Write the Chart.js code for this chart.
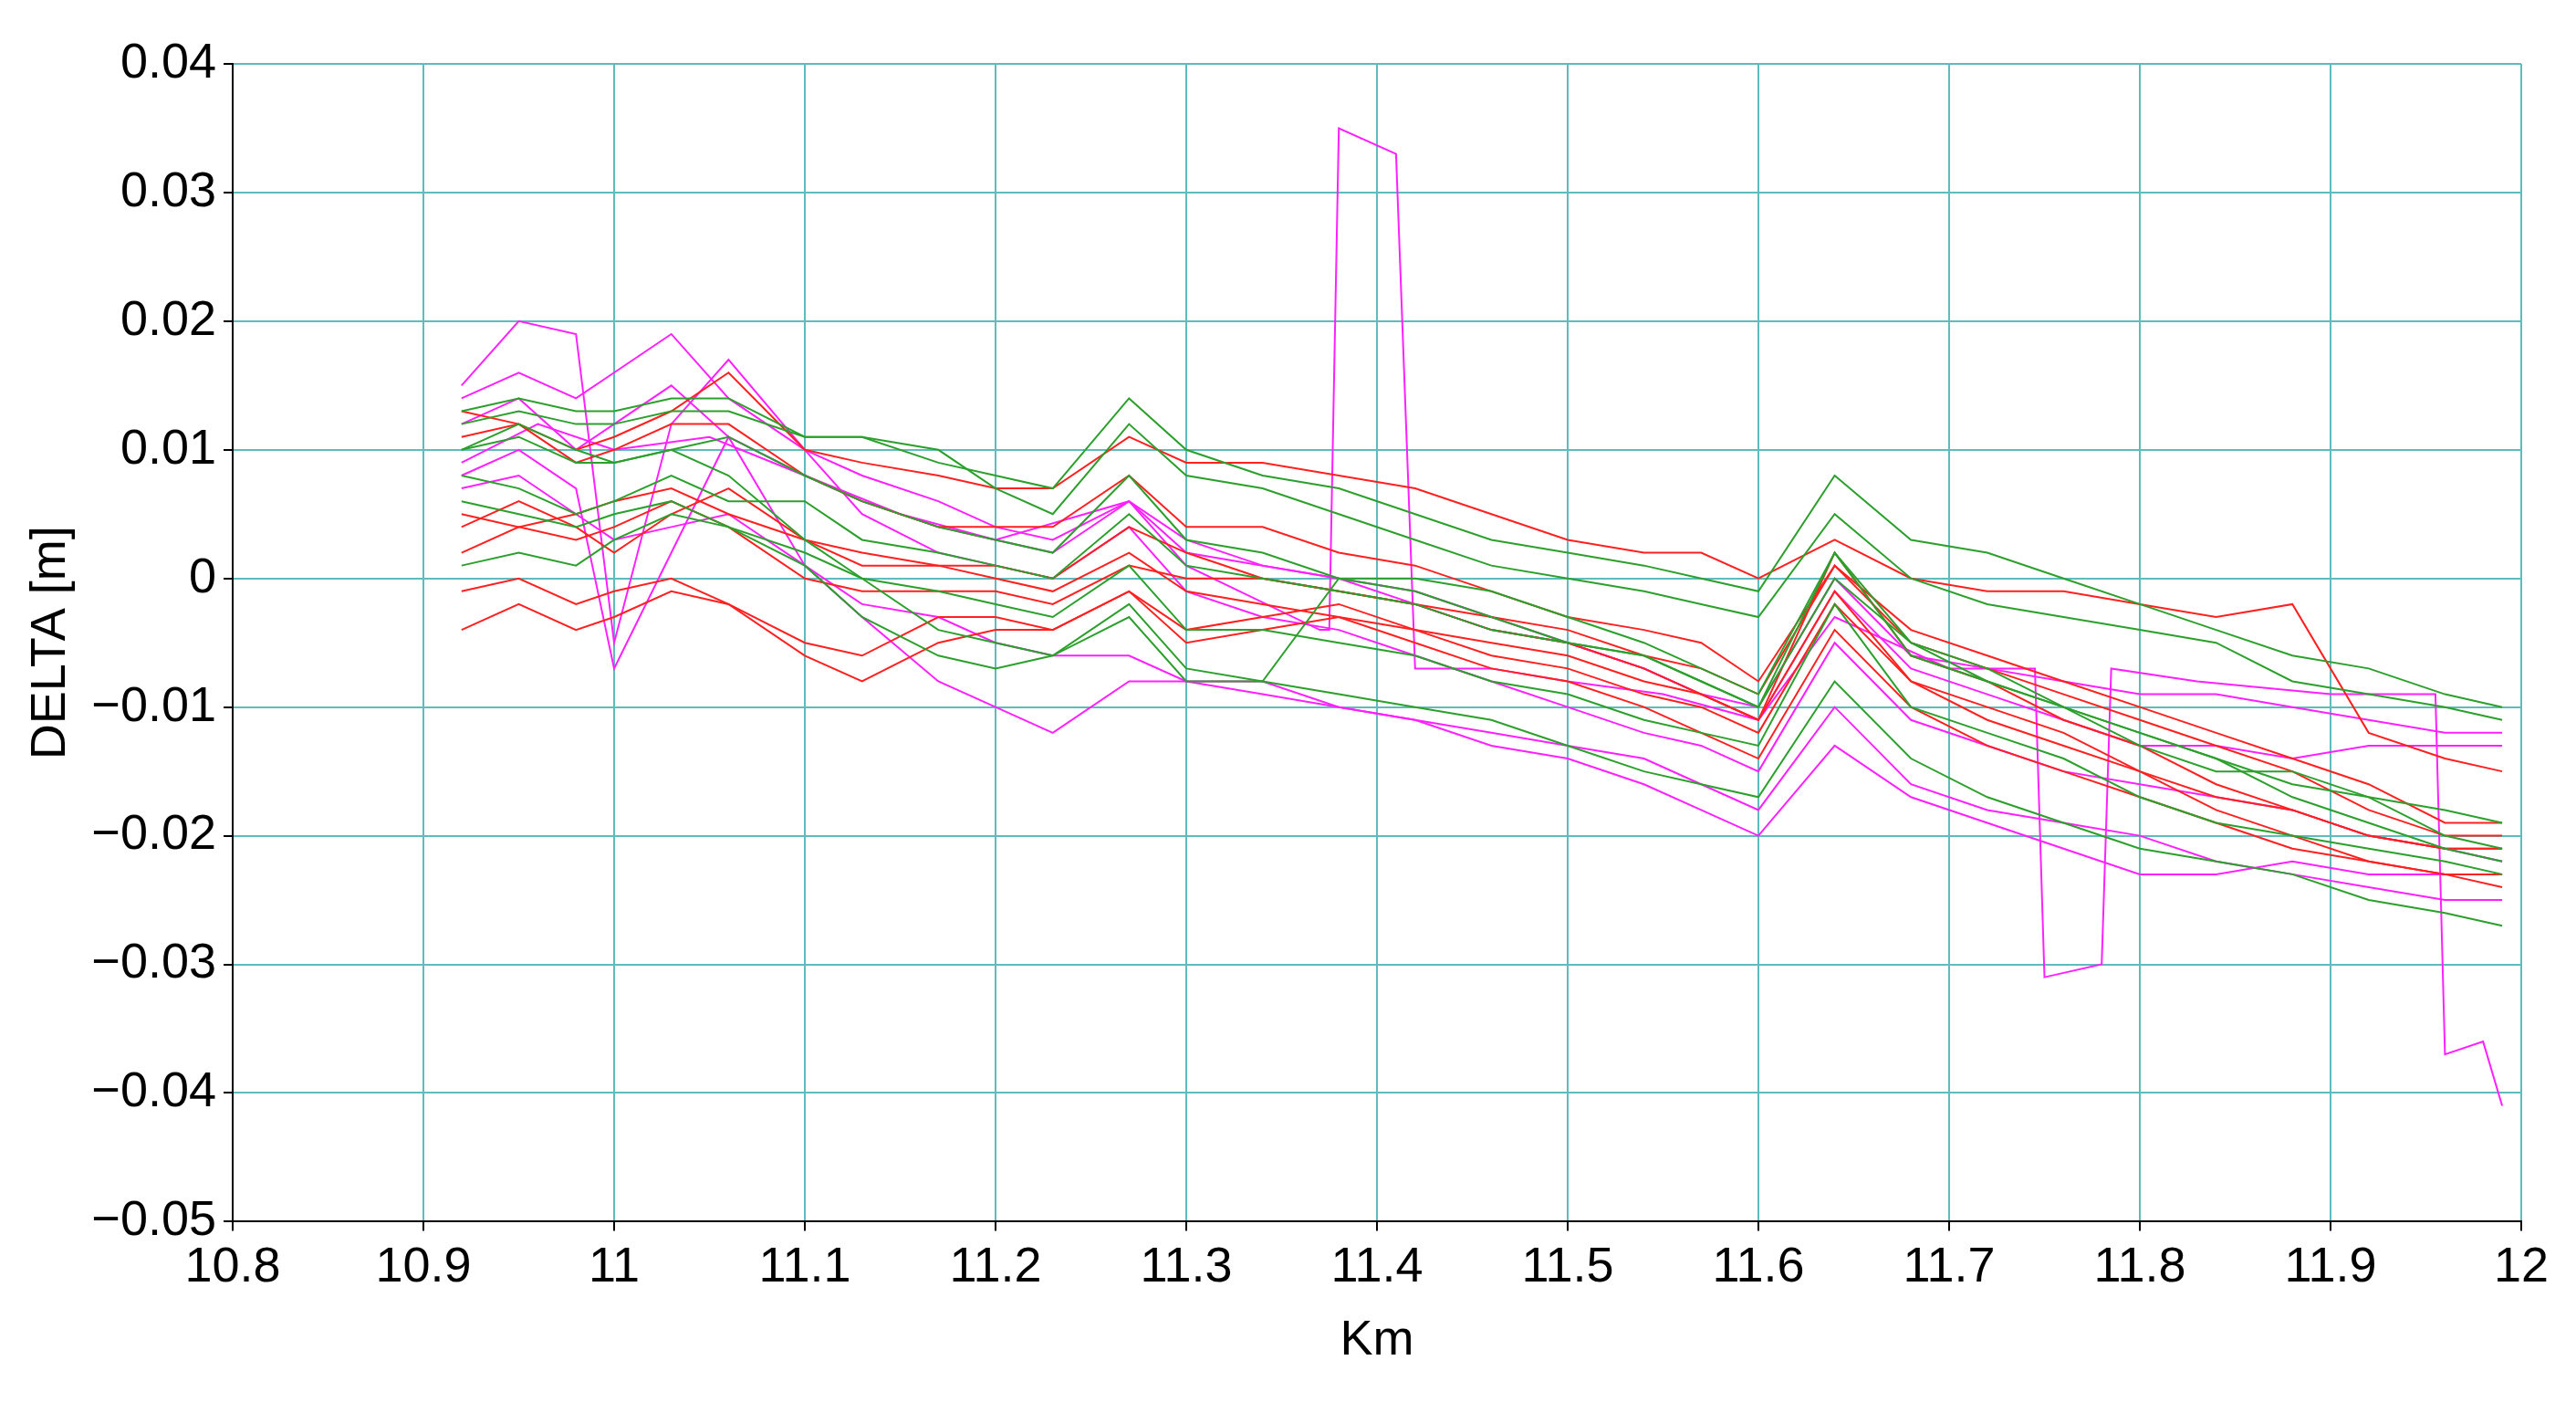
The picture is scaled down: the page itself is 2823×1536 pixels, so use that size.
<!DOCTYPE html>
<html><head><meta charset="utf-8">
<script src="https://cdn.jsdelivr.net/npm/chart.js@4/dist/chart.umd.min.js"></script>
<style>html,body{margin:0;padding:0;background:#fff}#w{width:2823px;height:1536px}</style>
</head><body><div id="w"><canvas id="c"></canvas></div>
<script>
const xs=[10.92,10.95,10.98,11.0,11.03,11.06,11.1,11.13,11.17,11.2,11.23,11.27,11.3,11.34,11.38,11.42,11.46,11.5,11.54,11.57,11.6,11.64,11.68,11.72,11.76,11.8,11.84,11.88,11.92,11.96,11.99];
const G1=[0.013,0.014,0.013,0.013,0.014,0.014,0.011,0.011,0.009,0.008,0.007,0.014,0.010,0.008,0.007,0.005,0.003,0.002,0.001,0.000,-0.001,0.008,0.003,0.002,0.000,-0.002,-0.004,-0.006,-0.007,-0.009,-0.010];
const G2=[0.012,0.013,0.012,0.012,0.013,0.013,0.011,0.011,0.010,0.007,0.005,0.012,0.008,0.007,0.005,0.003,0.001,0.000,-0.001,-0.002,-0.003,0.005,0.000,-0.002,-0.003,-0.004,-0.005,-0.008,-0.009,-0.010,-0.011];
const G3=[0.010,0.012,0.010,0.009,0.010,0.011,0.008,0.006,0.004,0.003,0.002,0.008,0.003,0.002,0.000,-0.001,-0.003,-0.005,-0.006,-0.008,-0.010,0.002,-0.006,-0.008,-0.010,-0.012,-0.014,-0.016,-0.017,-0.018,-0.019];
const G4=[0.006,0.005,0.004,0.005,0.006,0.004,0.002,0.000,-0.001,-0.002,-0.003,0.001,-0.004,-0.004,-0.005,-0.006,-0.008,-0.009,-0.011,-0.012,-0.013,-0.002,-0.010,-0.012,-0.014,-0.017,-0.019,-0.020,-0.021,-0.022,-0.023];
const G5=[0.001,0.002,0.001,0.003,0.005,0.004,0.001,-0.003,-0.006,-0.007,-0.006,-0.002,-0.007,-0.008,-0.009,-0.010,-0.011,-0.013,-0.015,-0.016,-0.017,-0.008,-0.014,-0.017,-0.019,-0.021,-0.022,-0.023,-0.025,-0.026,-0.027];
const G6=[0.010,0.011,0.009,0.009,0.010,0.008,0.003,0.000,-0.004,-0.005,-0.006,-0.003,-0.008,-0.008,0.000,0.000,-0.001,-0.003,-0.005,-0.007,-0.009,0.002,-0.005,-0.007,-0.010,-0.012,-0.014,-0.017,-0.019,-0.021,-0.022];
const G7=[0.008,0.007,0.005,0.006,0.008,0.006,0.006,0.003,0.002,0.001,0.000,0.005,0.001,0.000,-0.001,-0.002,-0.004,-0.005,-0.006,-0.008,-0.010,0.000,-0.005,-0.008,-0.010,-0.013,-0.015,-0.015,-0.017,-0.020,-0.021];
const R1=[0.013,0.012,0.010,0.011,0.013,0.016,0.010,0.009,0.008,0.007,0.007,0.011,0.009,0.009,0.008,0.007,0.005,0.003,0.002,0.002,0.000,0.003,0.000,-0.001,-0.001,-0.002,-0.003,-0.002,-0.012,-0.014,-0.015];
const R2=[0.011,0.012,0.009,0.010,0.012,0.012,0.008,0.006,0.004,0.004,0.004,0.008,0.004,0.004,0.002,0.001,-0.001,-0.003,-0.004,-0.005,-0.008,0.001,-0.004,-0.006,-0.008,-0.010,-0.012,-0.014,-0.016,-0.019,-0.019];
const R3=[0.005,0.004,0.005,0.006,0.007,0.005,0.003,0.002,0.001,0.000,-0.001,0.002,-0.001,-0.002,-0.003,-0.004,-0.005,-0.006,-0.008,-0.009,-0.011,0.002,-0.006,-0.008,-0.011,-0.013,-0.016,-0.018,-0.020,-0.021,-0.021];
const R4=[0.002,0.004,0.003,0.004,0.006,0.004,0.000,-0.001,-0.001,-0.001,-0.002,0.001,0.000,0.000,-0.001,-0.002,-0.004,-0.005,-0.007,-0.009,-0.011,-0.001,-0.008,-0.010,-0.012,-0.015,-0.017,-0.018,-0.020,-0.021,-0.021];
const R5=[-0.001,0.000,-0.002,-0.001,0.000,-0.002,-0.005,-0.006,-0.003,-0.003,-0.004,-0.001,-0.004,-0.003,-0.002,-0.004,-0.006,-0.007,-0.009,-0.010,-0.012,-0.002,-0.008,-0.011,-0.013,-0.015,-0.018,-0.020,-0.022,-0.023,-0.023];
const R6=[-0.004,-0.002,-0.004,-0.003,-0.001,-0.002,-0.006,-0.008,-0.005,-0.004,-0.004,-0.001,-0.005,-0.004,-0.003,-0.005,-0.007,-0.008,-0.010,-0.012,-0.014,-0.004,-0.010,-0.013,-0.015,-0.017,-0.019,-0.021,-0.022,-0.023,-0.024];
const R7=[0.004,0.006,0.004,0.002,0.005,0.007,0.003,0.001,0.001,0.001,0.000,0.004,0.002,0.000,-0.001,-0.002,-0.003,-0.004,-0.006,-0.007,-0.009,0.001,-0.005,-0.007,-0.009,-0.011,-0.013,-0.015,-0.018,-0.020,-0.020];
const M1=[0.015,0.020,0.019,-0.005,0.012,0.017,0.010,0.005,0.002,0.001,0.000,0.004,-0.001,-0.003,-0.004,-0.006,-0.008,-0.010,-0.012,-0.013,-0.015,-0.005,-0.011,-0.013,-0.015,-0.016,-0.017,-0.018,-0.020,-0.021,-0.022];
const M2=[0.014,0.016,0.014,0.016,0.019,0.014,0.010,0.008,0.006,0.004,0.003,0.006,0.003,0.001,0.000,-0.001,-0.003,-0.005,-0.007,-0.009,-0.010,0.000,-0.006,-0.007,-0.008,-0.009,-0.009,-0.010,-0.011,-0.012,-0.012];
const M3=[0.008,0.010,0.007,-0.007,0.002,0.011,0.001,-0.003,-0.008,-0.010,-0.012,-0.008,-0.008,-0.008,-0.010,-0.011,-0.012,-0.013,-0.014,-0.016,-0.018,-0.010,-0.016,-0.018,-0.019,-0.020,-0.022,-0.023,-0.024,-0.025,-0.025];
const M4=[0.007,0.008,0.005,0.003,0.004,0.005,0.001,-0.002,-0.003,-0.005,-0.006,-0.006,-0.008,-0.009,-0.010,-0.011,-0.013,-0.014,-0.016,-0.018,-0.020,-0.013,-0.017,-0.019,-0.021,-0.023,-0.023,-0.022,-0.023,-0.023,-0.023];
const M6=[0.012,0.014,0.010,0.012,0.015,0.011,0.008,0.006,0.004,0.003,0.002,0.006,0.002,0.001,0.000,-0.002,-0.004,-0.005,-0.007,-0.009,-0.011,-0.001,-0.007,-0.009,-0.011,-0.013,-0.013,-0.014,-0.013,-0.013,-0.013];
const M5x=[10.92,10.96,11.0,11.05,11.1,11.15,11.2,11.27,11.3,11.37,11.375,11.38,11.41,11.42,11.46,11.5,11.55,11.6,11.64,11.7,11.745,11.75,11.78,11.785,11.83,11.9,11.955,11.96,11.98,11.99];
const M5=[0.009,0.012,0.010,0.011,0.008,0.005,0.003,0.006,0.001,-0.004,-0.004,0.035,0.033,-0.007,-0.007,-0.008,-0.009,-0.011,-0.003,-0.007,-0.007,-0.031,-0.030,-0.007,-0.008,-0.009,-0.009,-0.037,-0.036,-0.041];
const xTicks=[10.8,10.9,11,11.1,11.2,11.3,11.4,11.5,11.6,11.7,11.8,11.9,12];
const yTicks=[0.04,0.03,0.02,0.01,0,-0.01,-0.02,-0.03,-0.04,-0.05];

const GREEN='#2ca02c',RED='#ff2020',MAG='#ff20ff';
const groups=[[GREEN,[G1,G2,G3,G4,G5,G6,G7]],[RED,[R1,R2,R3,R4,R5,R6,R7]],[MAG,[M1,M2,M3,M4,M6]]];
const datasets=[];
groups.forEach(([col,arr])=>arr.forEach(ys=>datasets.push({data:ys.map((y,i)=>({x:xs[i],y})),borderColor:col,borderWidth:2,pointRadius:0,tension:0})));
datasets.push({data:M5.map((y,i)=>({x:M5x[i],y})),borderColor:MAG,borderWidth:2,pointRadius:0,tension:0});
const grid='#60bcbc';
const F={family:'Liberation Sans',size:54};
new Chart(document.getElementById('c'),{type:'line',data:{datasets},
options:{responsive:true,maintainAspectRatio:false,animation:false,
layout:{padding:{top:70,right:60,left:20,bottom:30}},
plugins:{legend:{display:false},tooltip:{enabled:false}},
scales:{
x:{type:'linear',min:10.8,max:12,afterBuildTicks:s=>{s.ticks=xTicks.map(v=>({value:v}));},
ticks:{color:'#000',font:F,callback:v=>String(Math.round(v*10)/10),maxRotation:0,padding:8},
grid:{color:grid,lineWidth:2,drawTicks:true,tickLength:10,tickColor:'#000'},border:{color:'#000',width:2},
title:{display:true,text:'Km',color:'#000',font:F,padding:{top:8}}},
y:{min:-0.05,max:0.04,afterBuildTicks:s=>{s.ticks=yTicks.map(v=>({value:v}));},afterFit:s=>{s.width=235;},
ticks:{color:'#000',font:F,padding:8,callback:v=>{const r=Math.round(v*100)/100;if(r===0)return '0';return (r<0?'\u2212':'')+Math.abs(r).toFixed(2);}},
grid:{color:grid,lineWidth:2,tickLength:10,tickColor:'#000'},border:{color:'#000',width:2},
title:{display:true,text:'DELTA [m]',color:'#000',font:F,padding:{bottom:4}}}
}}});
</script></body></html>
